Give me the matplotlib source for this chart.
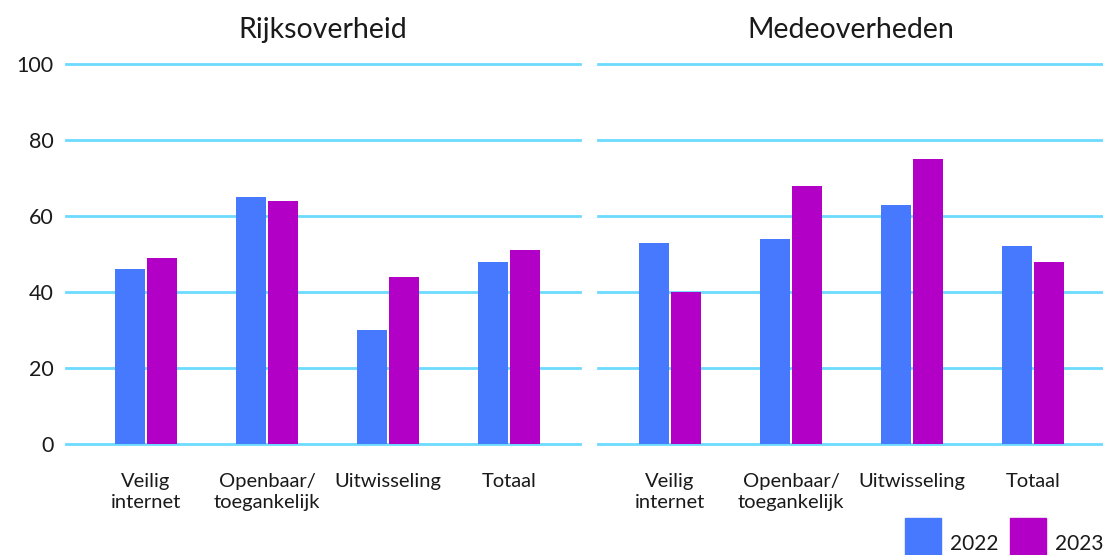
import matplotlib
matplotlib.use("Agg")
import matplotlib.pyplot as plt
from matplotlib.patches import Rectangle
import numpy as np

plt.rcParams['font.family'] = ['Lato', 'DejaVu Sans']

categories = ["Veilig\ninternet", "Openbaar/\ntoegankelijk", "Uitwisseling", "Totaal"]
panels = ["Rijksoverheid", "Medeoverheden"]
years = ["2022", "2023"]
rijk_2022 = [46, 65, 30, 48]
rijk_2023 = [49, 64, 44, 51]
mede_2022 = [53, 54, 63, 52]
mede_2023 = [40, 68, 75, 48]
yticks = [0, 20, 40, 60, 80, 100]

colors = ["#4779FF", "#B300C6"]
grid_color = "#6CDBFF"
text_color = "#1a1a1a"

W, H = 1103, 555
fig = plt.figure(figsize=(W / 100, H / 100), dpi=100)

bottom = 1 - 444 / H
top = 1 - 64 / H
axL = fig.add_axes([66 / W, bottom, (580 - 66) / W, top - bottom])
axR = fig.add_axes([598 / W, bottom, (1103 - 598) / W, top - bottom])

data = [(rijk_2022, rijk_2023), (mede_2022, mede_2023)]
xlims = [(-0.661, 3.587), (-0.595, 3.579)]
x = np.arange(len(categories))
bw = 0.248
off = 0.132

for i, (ax, title, (v22, v23)) in enumerate(zip([axL, axR], panels, data)):
    for y in yticks:
        ax.axhline(y, color=grid_color, lw=2.0, zorder=1, clip_on=False)
    ax.bar(x - off, v22, width=bw, color=colors[0], zorder=2)
    ax.bar(x + off, v23, width=bw, color=colors[1], zorder=2)
    ax.set_xlim(*xlims[i])
    ax.set_ylim(0, 100)
    ax.set_xticks(x)
    ax.set_xticklabels(categories, fontsize=14.5, linespacing=1.25, color=text_color)
    ax.tick_params(axis='x', length=0, pad=21)
    ax.set_yticks(yticks)
    if i == 0:
        ax.set_yticklabels([str(t) for t in yticks], fontsize=15.5, color=text_color)
        ax.tick_params(axis='y', length=0, pad=9)
    else:
        ax.tick_params(axis='y', length=0, labelleft=False)
    for s in ax.spines.values():
        s.set_visible(False)
    ax.set_title(title, fontsize=20.5, color=text_color, pad=19)

# legend
sq = 36
for j, (yr, c, x0) in enumerate(zip(years, colors, [905, 1010])):
    fig.add_artist(Rectangle((x0 / W, 0), sq / W, (555 - 518) / H,
                             transform=fig.transFigure, color=c, clip_on=False))
    fig.text((x0 + 45) / W, 1 / H, yr, fontsize=15, color=text_color,
             ha='left', va='bottom')

fig.savefig("out.png", dpi=100)
